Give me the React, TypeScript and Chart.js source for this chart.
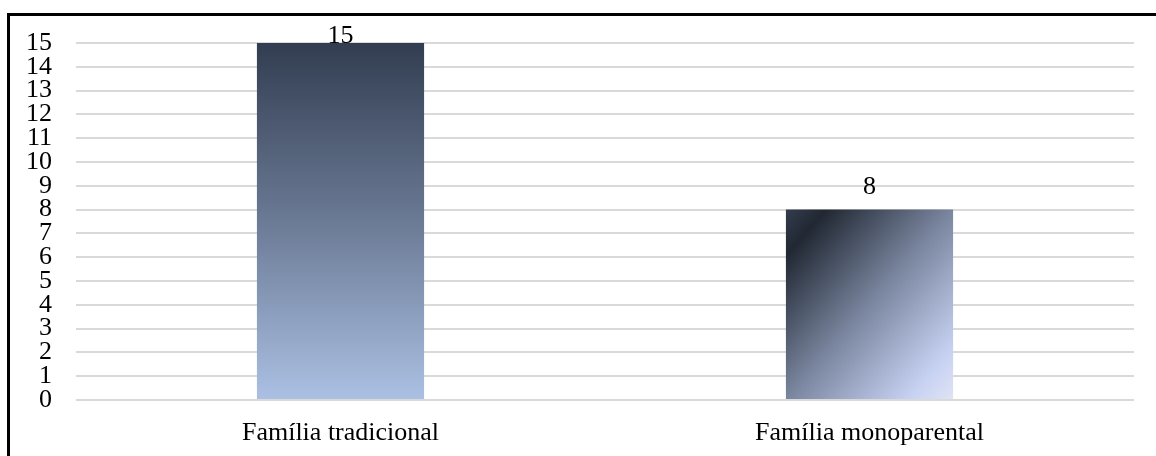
import React, { useEffect, useRef } from "react";
import { Chart, registerables } from "chart.js";

Chart.register(...registerables);

const categories: string[] = ["Família tradicional", "Família monoparental"];
const values: number[] = [15, 8];
const yTicks: number[] = [0, 1, 2, 3, 4, 5, 6, 7, 8, 9, 10, 11, 12, 13, 14, 15];

const FONT = "'Liberation Serif', 'Times New Roman', serif";
const BAR_PCT = 0.316;

function barFill(c: any) {
  const chart = c.chart;
  const area = chart.chartArea;
  const i = c.dataIndex;
  if (!area || i === undefined || !chart.scales.x || !chart.scales.y) return "#6e7e9a";
  const ctx = chart.ctx as CanvasRenderingContext2D;
  const xs = chart.scales.x;
  const ys = chart.scales.y;
  const xc = xs.getPixelForValue(i);
  const w = (xs.width / categories.length) * BAR_PCT;
  const top = ys.getPixelForValue(values[i]);
  const bottom = ys.getPixelForValue(0);
  const h = bottom - top;
  if (i === 0) {
    const g = ctx.createLinearGradient(0, top, 0, bottom);
    g.addColorStop(0, "#323d51");
    g.addColorStop(0.5, "#6b7a95");
    g.addColorStop(1, "#abc0e3");
    return g;
  }
  const cx = xc;
  const cy = top + h / 2;
  const vx = h;
  const vy = w;
  const k = (w * h) / (vx * vx + vy * vy);
  const g = ctx.createLinearGradient(cx - vx * k, cy - vy * k, cx + vx * k, cy + vy * k);
  g.addColorStop(0, "#343d4e");
  g.addColorStop(0.12, "#212833");
  g.addColorStop(0.5, "#7a869f");
  g.addColorStop(0.86, "#c6d1f2");
  g.addColorStop(1, "#e0e3f3");
  return g;
}

const labelPlugin = {
  id: "valueLabels",
  afterDatasetsDraw(chart: any) {
    const ctx = chart.ctx as CanvasRenderingContext2D;
    const meta = chart.getDatasetMeta(0);
    ctx.save();
    ctx.font = `26px ${FONT}`;
    ctx.fillStyle = "#000";
    ctx.textAlign = "center";
    ctx.textBaseline = "alphabetic";
    meta.data.forEach((bar: any, i: number) => {
      const y = Math.max(bar.y - 16, chart.chartArea.top);
      ctx.fillText(String(values[i]), bar.x, y);
    });
    ctx.restore();
  },
};

export default function App() {
  const ref = useRef<HTMLCanvasElement | null>(null);
  useEffect(() => {
    if (!ref.current) return;
    const chart = new Chart(ref.current, {
      type: "bar",
      data: {
        labels: categories,
        datasets: [
          {
            data: values,
            backgroundColor: barFill as any,
            categoryPercentage: 1,
            barPercentage: BAR_PCT,
            borderWidth: 0,
          },
        ],
      },
      options: {
        animation: false,
        responsive: false,
        maintainAspectRatio: false,
        devicePixelRatio: 1,
        layout: { padding: { top: 43, left: 0, right: 22, bottom: 0 } },
        plugins: { legend: { display: false }, tooltip: { enabled: false }, title: { display: false } },
        scales: {
          x: {
            grid: { display: false, drawTicks: false },
            border: { display: false },
            ticks: { color: "#000", font: { family: FONT, size: 26 }, padding: 18 },
            afterFit: (s: any) => {
              s.height = 56;
            },
          },
          y: {
            min: 0,
            max: 15,
            grid: { color: "#d9d9d9", lineWidth: 2, drawTicks: false },
            border: { display: false },
            afterBuildTicks: (s: any) => {
              s.ticks = yTicks.map((v) => ({ value: v }));
            },
            ticks: { color: "#000", font: { family: FONT, size: 26 }, padding: 24, stepSize: 1, autoSkip: false },
            afterFit: (s: any) => {
              s.width = 76;
            },
          },
        },
      },
      plugins: [labelPlugin],
    });
    return () => chart.destroy();
  }, []);
  return (
    <div style={{ position: "fixed", left: 0, top: 0, width: 1156, height: 456, overflow: "hidden", background: "#fff" }}>
      <div
        style={{
          position: "absolute",
          left: 7,
          top: 13,
          width: 1170,
          height: 470,
          border: "3px solid #000",
          boxSizing: "border-box",
        }}
      />
      <canvas ref={ref} width={1156} height={456} style={{ position: "absolute", left: 0, top: 0, width: 1156, height: 456 }} />
    </div>
  );
}
